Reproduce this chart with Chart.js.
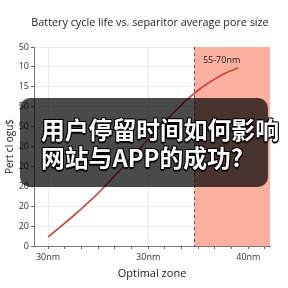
<!DOCTYPE html>
<html><head><meta charset="utf-8">
<script src="https://cdn.jsdelivr.net/npm/chart.js@4"></script>
<style>
html,body{margin:0;padding:0;background:#fff;}
#wrap{position:relative;width:288px;height:288px;}
#box{position:absolute;left:20px;top:98px;width:248px;height:89px;border-radius:10px;background:rgba(0,0,0,0.71);}
#txt{position:absolute;left:41px;top:115px;width:260px;color:#fff;font-family:"Noto Sans CJK SC",sans-serif;font-weight:bold;font-size:23.8px;line-height:28px;white-space:nowrap;
text-shadow:-1px -1px 0 #000,1px -1px 0 #000,-1px 1px 0 #000,1px 1px 0 #000,0 2px 1px #000;}
</style></head>
<body><div id="wrap"><canvas id="c" width="288" height="288"></canvas>
<div id="box"></div>
<div id="txt">用户停留时间如何影响<br>网站与APP的成功?</div></div>
<script>
const chartTitle = "Battery cycle life vs. separitor average pore size";
const xTitle = "Optimal zone";
const yTitle = "Pert cl ogu$";
const xTickLabels = {0:"30nm", 6:"30nm", 12:"40nm"};
const yTickLabels = ["0","20","20","20","20","20","50","50","15","10","50"];
const curveX = [0, 1.5, 3, 4.5, 6, 7.5, 9, 10.5, 11.4];
const curveY = [4.5, 15, 26.5, 39.8, 53.5, 66.8, 78.3, 86.3, 89.5];
const zoneStart = 8.76;
const zoneEnd = 13.3;
const zoneLabel = "55-70nm";
const zoneLabelPos = [10.4, 93];

const zonePlugin = {
  id:'zone',
  beforeDatasetsDraw(chart){
    const {ctx, chartArea:a, scales:{x,y}} = chart;
    const x0 = x.getPixelForValue(zoneStart), x1 = x.getPixelForValue(zoneEnd);
    ctx.save();
    ctx.fillStyle = '#fbb0a0';
    ctx.fillRect(x0, a.top, x1 - x0, a.bottom - a.top);
    ctx.strokeStyle = '#555';
    ctx.lineWidth = 1;
    ctx.setLineDash([3,3]);
    ctx.beginPath();
    ctx.moveTo(Math.round(x0)+0.5, a.top);
    ctx.lineTo(Math.round(x0)+0.5, a.bottom);
    ctx.stroke();
    ctx.restore();
  },
  afterDatasetsDraw(chart){
    const {ctx, scales:{x,y}} = chart;
    ctx.save();
    ctx.fillStyle = '#222';
    ctx.font = '9px "Open Sans", sans-serif';
    ctx.textAlign = 'center';
    ctx.textBaseline = 'middle';
    ctx.fillText(zoneLabel, x.getPixelForValue(zoneLabelPos[0]), y.getPixelForValue(zoneLabelPos[1]));
    ctx.restore();
  },
  afterDraw(chart){
    const {ctx} = chart;
    ctx.save();
    ctx.fillStyle = '#222';
    ctx.font = '10.8px "Open Sans", sans-serif';
    ctx.textAlign = 'center';
    ctx.textBaseline = 'middle';
    ctx.fillText(chartTitle, 150, 23);
    ctx.restore();
  }
};

new Chart(document.getElementById('c'), {
  type:'line',
  data:{datasets:[{
    data: curveX.map((v,i)=>({x:v, y:curveY[i]})),
    borderColor:'#d8322a', borderWidth:1.5, pointRadius:0,
    tension:0.4, fill:false
  }]},
  options:{
    responsive:false, animation:false,
    layout:{padding:{top:47,right:18,left:0,bottom:8}},
    plugins:{legend:{display:false}, tooltip:{enabled:false}, title:{display:false}},
    scales:{
      x:{type:'linear', min:-0.84, max:13.3,
        afterFit(s){s.height = 34;},
        afterBuildTicks(s){ const t=[]; for(let i=0;i<=13;i++) t.push({value:i}); s.ticks=t; },
        ticks:{autoSkip:false, maxRotation:0, padding:3, color:'#333', font:{family:'Open Sans', size:9},
          callback:(v)=> xTickLabels[v] !== undefined ? xTickLabels[v] : ''},
        grid:{drawOnChartArea:true, tickLength:3, tickColor:'#666',
          color:(c)=> (c.tick && xTickLabels[c.tick.value] !== undefined) ? '#ebebeb' : 'rgba(0,0,0,0)'},
        border:{color:'#777', width:1},
        title:{display:true, text:xTitle, color:'#222', font:{family:'Open Sans', size:11}, padding:{top:2,bottom:0}}
      },
      y:{type:'linear', min:0, max:100,
        afterFit(s){s.width = 34;},
        ticks:{stepSize:10, padding:2, color:'#333', font:{family:'Open Sans', size:9},
          callback:(v)=> yTickLabels[Math.round(v/10)]},
        grid:{tickLength:3, tickColor:'#666', color:'#ebebeb'},
        border:{color:'#777', width:1},
        title:{display:true, text:yTitle, color:'#222', font:{family:'Open Sans', size:10}, padding:{top:4,bottom:0}}
      }
    }
  },
  plugins:[zonePlugin]
});
</script></body></html>
